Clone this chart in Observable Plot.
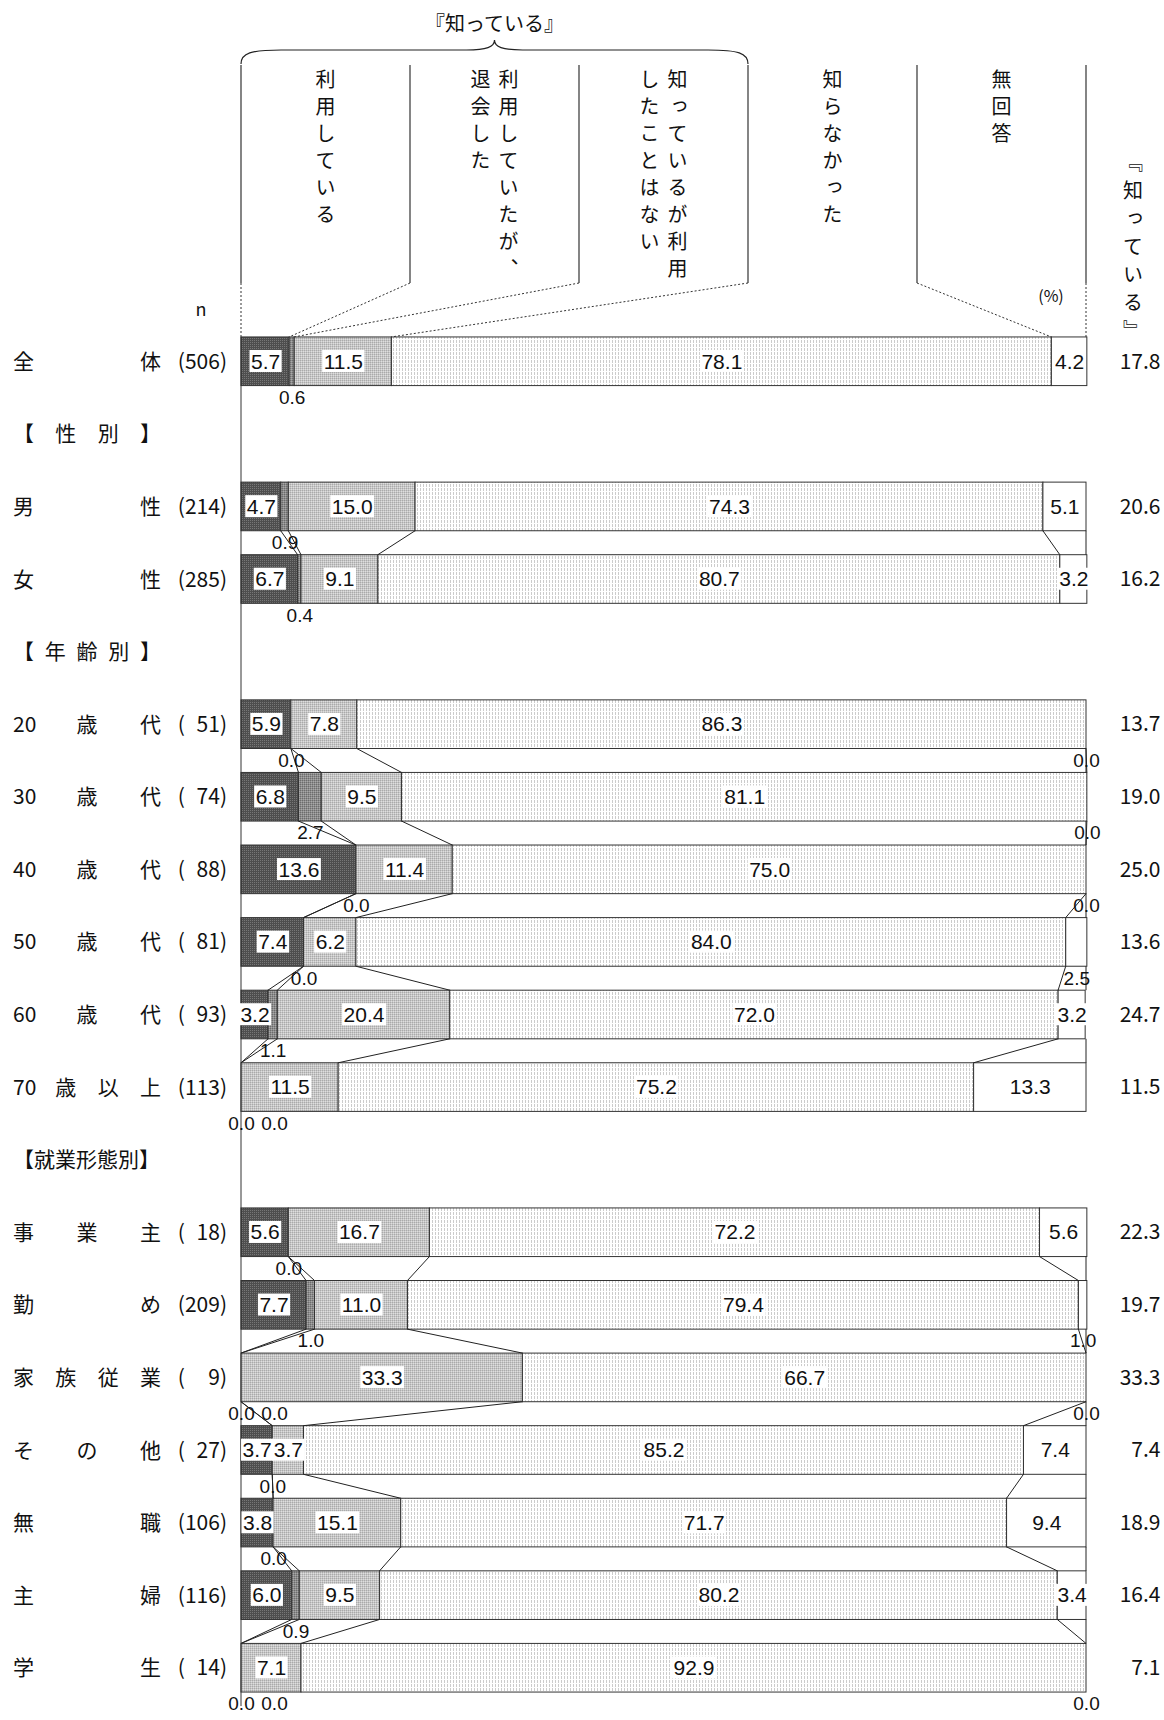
<!DOCTYPE html>
<html><head><meta charset="utf-8">
<script src="https://cdn.jsdelivr.net/npm/d3@7"></script>
<script src="https://cdn.jsdelivr.net/npm/@observablehq/plot@0.6"></script>
<style>
body{margin:0;background:#fff;}
#chart svg{display:block;}
</style></head><body><div id="chart"></div>
<script>
const CJK = '"Noto Sans CJK JP", "Noto Sans", sans-serif';
const NUM = '"Liberation Sans", Arial, sans-serif';

// ---- data ----
const categories = ["利用している", "利用していたが、退会した", "知っているが利用したことはない", "知らなかった", "無回答"];
const headerLines = [["利用している"], ["利用していたが、", "退会した"], ["知っているが利用", "したことはない"], ["知らなかった"], ["無回答"]];
const rowNames = ["全 体", "【 性 別 】", "男 性", "女 性", "【 年 齢 別 】", "20 歳 代", "30 歳 代", "40 歳 代", "50 歳 代", "60 歳 代", "70 歳 以 上", "【就業形態別】", "事 業 主", "勤 め", "家 族 従 業", "そ の 他", "無 職", "主 婦", "学 生"];
const rowN =        [506, null, 214, 285, null, 51, 74, 88, 81, 93, 113, null, 18, 209, 9, 27, 106, 116, 14];
const using =       [5.7, null, 4.7, 6.7, null, 5.9, 6.8, 13.6, 7.4, 3.2, 0.0, null, 5.6, 7.7, 0.0, 3.7, 3.8, 6.0, 0.0];
const quit =        [0.6, null, 0.9, 0.4, null, 0.0, 2.7, 0.0, 0.0, 1.1, 0.0, null, 0.0, 1.0, 0.0, 0.0, 0.0, 0.9, 0.0];
const knowNotUsed = [11.5, null, 15.0, 9.1, null, 7.8, 9.5, 11.4, 6.2, 20.4, 11.5, null, 16.7, 11.0, 33.3, 3.7, 15.1, 9.5, 7.1];
const didNotKnow =  [78.1, null, 74.3, 80.7, null, 86.3, 81.1, 75.0, 84.0, 72.0, 75.2, null, 72.2, 79.4, 66.7, 85.2, 71.7, 80.2, 92.9];
const noAnswer =    [4.2, null, 5.1, 3.2, null, 0.0, 0.0, 0.0, 2.5, 3.2, 13.3, null, 5.6, 1.0, 0.0, 7.4, 9.4, 3.4, 0.0];
const knowTotal =   [17.8, null, 20.6, 16.2, null, 13.7, 19.0, 25.0, 13.6, 24.7, 11.5, null, 22.3, 19.7, 33.3, 7.4, 18.9, 16.4, 7.1];

const series = [using, quit, knowNotUsed, didNotKnow, noAnswer];
const isData = i => rowN[i] != null;

// tidy table built from the arrays
const cells = [];
rowNames.forEach((row, i) => {
  if (!isData(i)) return;
  let c = 0;
  series.forEach((s, k) => {
    const v = s[i];
    cells.push({row, i, k, cat: categories[k], value: v, x1: c, x2: c + v, mid: c + v / 2});
    c += v;
  });
});
const cumOf = i => {
  const out = [0]; let c = 0;
  series.forEach(s => { c += s[i]; out.push(c); });
  out[out.length - 1] = 100;
  return out;
};
const fmt = v => v.toFixed(1);
const inside = cells.filter(d => d.value >= 3);
const below = cells.filter(d => d.value < 3);
const isDodged = d => d.k === 1 && using[d.i] === 0;
const belowA = below.filter(d => !isDodged(d));
const belowB = below.filter(isDodged);
const totals = rowNames.map((row, i) => ({row, i, t: knowTotal[i]})).filter(d => isData(d.i));

// ---- decoration drawn with Plot's scales ----
function vtext(g, x, y, str, spacing) {
  return g.append("text").attr("x", x).attr("y", y).attr("text-anchor", "start")
    .attr("style", `writing-mode: vertical-rl; letter-spacing: ${spacing}px;`)
    .attr("font-family", CJK).attr("font-size", 20).attr("fill", "#111").text(str);
}
function headerMark(index, scales) {
  const x = scales.x, y = scales.y;
  const g = d3.create("svg:g");
  const top = y(rowNames[0]);
  const cum = cumOf(0);
  g.append("text").attr("x", x(30)).attr("y", 24).attr("dy", "0.35em")
    .attr("text-anchor", "middle").attr("font-family", CJK).attr("font-size", 20).attr("fill", "#111")
    .text("『知っている』");
  const x0 = x(0), x1 = x(60), xc = x(30);
  g.append("path").attr("fill", "none").attr("stroke", "#222").attr("stroke-width", 1.2)
    .attr("d", `M${x0},64 C${x0},53 ${x0 + 10},50 ${x0 + 40},50 L${xc - 28},50 C${xc - 8},50 ${xc},47 ${xc},40 C${xc},47 ${xc + 8},50 ${xc + 28},50 L${x1 - 40},50 C${x1 - 10},50 ${x1},53 ${x1},64`);
  for (let k = 0; k <= 5; k++) {
    const hx = x(k * 20);
    g.append("line").attr("x1", hx).attr("x2", hx).attr("y1", 65).attr("y2", 283)
      .attr("stroke", "#333").attr("stroke-width", 1.2);
    g.append("line").attr("x1", hx).attr("y1", 283).attr("x2", x(cum[k])).attr("y2", top)
      .attr("stroke", "#333").attr("stroke-width", 1).attr("stroke-dasharray", "2,2");
  }
  headerLines.forEach((lines, c) => {
    const cx = x(10 + 20 * c);
    lines.forEach((ln, j) => {
      const off = lines.length === 1 ? 0 : (j === 0 ? 14 : -14);
      vtext(g, cx + off, 69, ln, 7);
    });
  });
  vtext(g, x(100) + 47, 152, "『知っている』", 8);
  g.append("text").attr("x", 1051).attr("y", 296).attr("dy", "0.35em").attr("text-anchor", "middle")
    .attr("font-family", CJK).attr("font-size", 16).attr("fill", "#111").text("(%)");
  g.append("text").attr("x", 201).attr("y", 310).attr("dy", "0.35em").attr("text-anchor", "middle")
    .attr("font-family", CJK).attr("font-size", 18).attr("fill", "#111").text("n");
  return g.node();
}

function connectorMark(index, scales) {
  const x = scales.x, y = scales.y, bw = y.bandwidth();
  const g = d3.create("svg:g").attr("stroke", "#222").attr("stroke-width", 1).attr("fill", "none");
  for (let i = 0; i < rowNames.length - 1; i++) {
    if (!isData(i) || !isData(i + 1)) continue;
    const a = cumOf(i), b = cumOf(i + 1);
    const yb = y(rowNames[i]) + bw, yt = y(rowNames[i + 1]);
    for (let k = 1; k <= 5; k++) {
      g.append("line").attr("x1", x(a[k])).attr("y1", yb).attr("x2", x(b[k])).attr("y2", yt);
    }
  }
  const yTop = y(rowNames[0]), yBot = y(rowNames[rowNames.length - 1]) + bw + 14;
  g.append("line").attr("x1", x(0)).attr("x2", x(0)).attr("y1", yTop).attr("y2", yBot).attr("stroke", "#333");
  return g.node();
}

function rowLabelMark(index, scales) {
  const y = scales.y, bw = y.bandwidth();
  const g = d3.create("svg:g").attr("font-family", CJK).attr("font-size", 21).attr("fill", "#111");
  const L = 13, R = 161, cw = 10.5;
  rowNames.forEach((name, i) => {
    const cy = y(name) + bw / 2;
    const toks = name.split(" ");
    const n = toks.length;
    toks.forEach((t, j) => {
      let xx, anchor;
      if (j === 0) { xx = L; anchor = "start"; }
      else if (j === n - 1) { xx = R; anchor = "end"; }
      else { xx = (L + cw) + (R - L - 2 * cw) * j / (n - 1); anchor = "middle"; }
      g.append("text").attr("x", xx).attr("y", cy).attr("dy", "0.36em").attr("text-anchor", anchor).text(t);
    });
    if (isData(i)) {
      g.append("text").attr("x", 227).attr("y", cy).attr("dy", "0.36em").attr("text-anchor", "end")
        .text("(" + String(rowN[i]).padStart(3, "\u2007") + ")");
    }
  });
  return g.node();
}

const patterns = ["url(#pat1)", "url(#pat2)", "url(#pat3)", "url(#pat4)", "#ffffff"];
const INSIDE_FILL = "#101010";

const chart = Plot.plot({
  width: 1164,
  height: 1720,
  marginLeft: 241,
  marginRight: 78,
  marginTop: 313,
  marginBottom: 4,
  style: {fontFamily: NUM, background: "white", color: "#111"},
  x: {domain: [0, 100], axis: null},
  y: {domain: rowNames, padding: 0.33, round: false, axis: null},
  color: {domain: categories, range: patterns},
  marks: [
    Plot.barX(cells, {x: "value", y: "row", fill: "cat", stroke: "#333", strokeWidth: 1}),
    connectorMark,
    headerMark,
    rowLabelMark,
    Plot.text(inside, {x: "mid", y: "row", text: d => fmt(d.value), fontSize: 21, fill: INSIDE_FILL}),
    Plot.text(belowA, {x: "mid", y: "row", text: d => fmt(d.value), fontSize: 19, fill: "#111", dy: 36}),
    Plot.text(belowB, {x: "mid", y: "row", text: d => fmt(d.value), fontSize: 19, fill: "#111", dy: 36, dx: 33}),
    Plot.text(totals, {y: "row", text: d => fmt(d.t), frameAnchor: "right", dx: 74, textAnchor: "end", fontSize: 21, fontFamily: CJK, fill: "#111"})
  ]
});

const defs = `<defs>
<pattern id="pat1" patternUnits="userSpaceOnUse" width="2" height="2"><rect width="2" height="2" fill="#4e4e4e"/><rect width="1" height="1" fill="#777"/></pattern>
<pattern id="pat2" patternUnits="userSpaceOnUse" width="2" height="2"><rect width="2" height="2" fill="#8c8c8c"/><rect width="1" height="1" fill="#6c6c6c"/><rect x="1" y="1" width="1" height="1" fill="#a8a8a8"/></pattern>
<pattern id="pat3" patternUnits="userSpaceOnUse" width="2" height="2"><rect width="2" height="2" fill="#c6c6c6"/><rect width="1" height="1" fill="#aaaaaa"/><rect x="1" y="1" width="1" height="1" fill="#dedede"/></pattern>
<pattern id="pat4" patternUnits="userSpaceOnUse" width="3" height="4"><rect width="3" height="4" fill="#ffffff"/><rect width="1" height="3" fill="#cccccc"/></pattern>
</defs>`;
chart.insertAdjacentHTML("afterbegin", defs);
document.getElementById("chart").append(chart);

// white boxes behind the in-bar labels
chart.querySelectorAll(`g[fill="${INSIDE_FILL}"] text`).forEach(t => {
  const b = t.getBBox();
  const r = document.createElementNS("http://www.w3.org/2000/svg", "rect");
  r.setAttribute("x", b.x - 1.5);
  r.setAttribute("y", b.y + 0.5);
  r.setAttribute("width", b.width + 3);
  r.setAttribute("height", b.height - 1);
  r.setAttribute("fill", "#ffffff");
  if (t.getAttribute("transform")) r.setAttribute("transform", t.getAttribute("transform"));
  t.parentNode.insertBefore(r, t);
});
// the totals on the right use a slightly spaced figure style
chart.querySelectorAll("text").forEach(t => { if (/^\d+\.\d$/.test(t.textContent) && +t.getAttribute("font-size") === 21 && t.closest(`g[fill="${INSIDE_FILL}"]`) == null) t.style.letterSpacing = "1.5px"; });
</script>
</body></html>
